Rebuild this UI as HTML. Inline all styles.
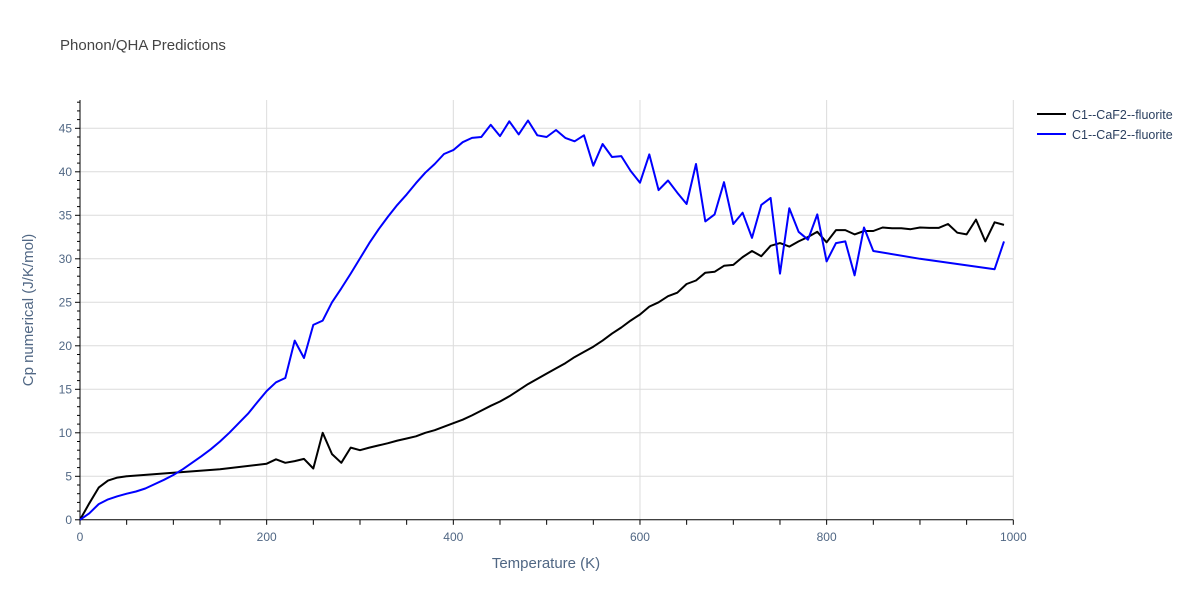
<!DOCTYPE html>
<html><head><meta charset="utf-8"><style>
body{margin:0;background:#fff;font-family:"Liberation Sans",Arial,sans-serif}
svg text{font-family:"Liberation Sans",Arial,sans-serif}
</style></head><body>
<svg id="chart" width="1200" height="600" xmlns="http://www.w3.org/2000/svg">
<rect width="1200" height="600" fill="#fff"/>
<text x="60" y="50" font-size="15" fill="#444">Phonon/QHA Predictions</text>
<g id="grid"></g>
<g id="axes"></g>
<g id="series"></g>
<text x="546" y="568" font-size="15" fill="#506784" text-anchor="middle">Temperature (K)</text>
<text transform="translate(33,310) rotate(-90)" font-size="15" fill="#506784" text-anchor="middle">Cp numerical (J/K/mol)</text>
<g>
<line x1="1037" y1="114" x2="1066" y2="114" stroke="#000" stroke-width="2"/>
<text x="1072" y="119" font-size="12.5" fill="#2a3f5f">C1--CaF2--fluorite</text>
<line x1="1037" y1="134" x2="1066" y2="134" stroke="#0000ff" stroke-width="2"/>
<text x="1072" y="139" font-size="12.5" fill="#2a3f5f">C1--CaF2--fluorite</text>
</g>
</svg>
<script>
const xTicks=[0,200,400,600,800,1000];
const yTicks=[0,5,10,15,20,25,30,35,40,45];
const blackT=[0,10,20,30,40,50,100,150,200,210,220,230,240,250,260,270,280,290,300,310,320,330,340,350,360,370,380,390,400,410,420,430,440,450,460,470,480,490,500,510,520,530,540,550,560,570,580,590,600,610,620,630,640,650,660,670,680,690,700,710,720,730,740,750,760,770,780,790,800,810,820,830,840,850,860,870,880,890,900,910,920,930,940,950,960,970,980,990];
const blackCp=[0,1.9,3.7,4.5,4.85,5.0,5.4,5.8,6.45,6.95,6.55,6.75,7.0,5.9,10.0,7.55,6.55,8.3,8.0,8.3,8.55,8.8,9.1,9.35,9.6,10.0,10.3,10.7,11.1,11.5,12.0,12.55,13.1,13.6,14.2,14.9,15.6,16.2,16.8,17.4,18.0,18.7,19.3,19.9,20.6,21.4,22.1,22.9,23.6,24.5,25.0,25.7,26.1,27.1,27.5,28.4,28.5,29.2,29.3,30.2,30.9,30.3,31.5,31.8,31.4,32.0,32.5,33.1,31.9,33.3,33.3,32.8,33.2,33.2,33.6,33.5,33.5,33.4,33.6,33.55,33.55,34.0,33.0,32.8,34.5,32.0,34.2,33.9];
const blueT=[0,10,20,30,40,50,60,70,80,90,100,110,120,130,140,150,160,170,180,190,200,210,220,230,240,250,260,270,280,290,300,310,320,330,340,350,360,370,380,390,400,410,420,430,440,450,460,470,480,490,500,510,520,530,540,550,560,570,580,590,600,610,620,630,640,650,660,670,680,690,700,710,720,730,740,750,760,770,780,790,800,810,820,830,840,850,900,980,990];
const blueCp=[0,0.75,1.8,2.35,2.7,3.0,3.25,3.6,4.1,4.6,5.15,5.8,6.55,7.3,8.1,9.0,10.0,11.1,12.2,13.5,14.8,15.8,16.3,20.6,18.6,22.4,22.9,25.0,26.6,28.3,30.05,31.8,33.4,34.85,36.2,37.4,38.7,39.9,40.9,42.05,42.5,43.4,43.9,44.0,45.4,44.1,45.8,44.3,45.9,44.2,44.0,44.8,43.9,43.5,44.2,40.7,43.2,41.7,41.8,40.1,38.75,42.0,37.9,39.0,37.6,36.3,40.9,34.3,35.1,38.8,34.0,35.3,32.4,36.2,37.0,28.3,35.8,33.1,32.2,35.1,29.7,31.8,32.0,28.1,33.6,30.9,30.0,28.8,32.0];
const X0=80,X1=1013.3,Y0=519.8,YPU=8.7;
function sx(t){return X0+(t/1000)*(X1-X0);}
function sy(v){return Y0-v*YPU;}
const NS='http://www.w3.org/2000/svg';
function mk(tag,attrs,parent){const e=document.createElementNS(NS,tag);for(const k in attrs)e.setAttribute(k,attrs[k]);parent.appendChild(e);return e;}
const grid=document.getElementById('grid'),axes=document.getElementById('axes'),series=document.getElementById('series');
yTicks.forEach(v=>{
 if(v>0){const g=mk('line',{x1:X0,x2:X1,y1:sy(v),y2:sy(v),stroke:'#dcdcdc','stroke-width':1},grid);
 
 }
 const t=mk('text',{x:X0-8,y:sy(v)+4,'font-size':12,fill:'#506784','text-anchor':'end'},axes);
 t.textContent=v;
 
 
});
xTicks.forEach(v=>{
 if(v>0){const g=mk('line',{x1:sx(v),x2:sx(v),y1:100,y2:Y0,stroke:'#dcdcdc','stroke-width':1},grid);
 
 }
 const t=mk('text',{x:sx(v),y:541,'font-size':12,fill:'#506784','text-anchor':'middle'},axes);
 t.textContent=v;
 
 
});
const yl=mk('line',{x1:X0,x2:X0,y1:100,y2:Y0,stroke:'#000','stroke-width':1},axes);


const xl=mk('line',{x1:X0,x2:X1,y1:Y0,y2:Y0,stroke:'#000','stroke-width':1},axes);


for(let v=0;v<=48;v++){const major=v%5===0;mk('line',{x1:X0-(major?5:3),x2:X0,y1:sy(v),y2:sy(v),stroke:'#000','stroke-width':1},axes);}
for(let t=0;t<=1000;t+=50){mk('line',{x1:sx(t),x2:sx(t),y1:Y0,y2:Y0+5,stroke:'#000','stroke-width':1},axes);}
function drawLine(T,V,color,name){
 const d=T.map((t,i)=>(i?'L':'M')+sx(t).toFixed(1)+','+sy(V[i]).toFixed(1)).join(' ');
 const p=mk('path',{d:d,fill:'none',stroke:color,'stroke-width':2,'stroke-linejoin':'round'},series);
 
 
}
drawLine(blackT,blackCp,'#000','black-series-line');
drawLine(blueT,blueCp,'#0000ff','blue-series-line');
</script>
</body></html>
